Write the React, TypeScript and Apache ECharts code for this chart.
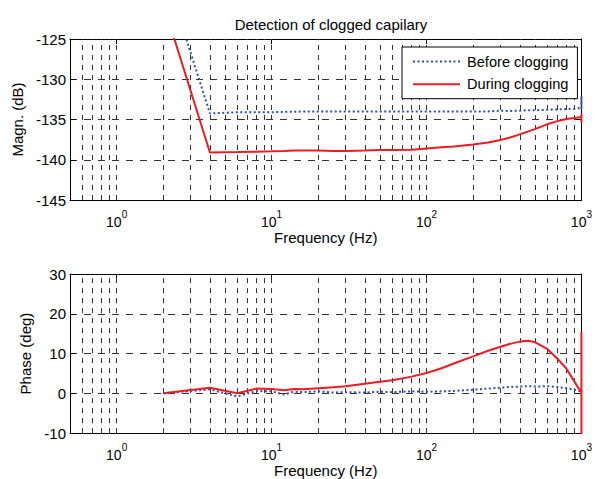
import React, { useEffect, useRef } from 'react';
import * as echarts from 'echarts';

const freqs = [2, 4, 6, 8, 10, 12, 14, 16, 20, 25, 30, 40, 50, 60, 80, 100, 125, 150, 200, 250, 300, 350, 400, 450, 500, 600, 700, 800, 900, 950, 1000, 1000, 1000];

const magBefore = [-116, -134.25, -134.1, -134.1, -134.1, -134.05, -134.05, -134.0, -134.0, -134.0, -134.0, -134.0, -134.0, -134.0, -134.0, -134.0, -134.0, -134.0, -134.0, -134.0, -133.9, -133.95, -133.9, -133.85, -133.85, -133.8, -133.75, -133.7, -133.65, -133.6, -133.6, -132.1, -134.1];

const magDuring = [-120.6, -139.1, -139.05, -139.0, -138.95, -138.9, -138.85, -138.85, -138.85, -138.9, -138.9, -138.85, -138.8, -138.8, -138.75, -138.6, -138.45, -138.35, -138.1, -137.85, -137.55, -137.2, -136.85, -136.5, -136.2, -135.6, -135.2, -134.95, -134.8, -134.75, -134.7, -134.3, -135.4];

const phaseBefore = [0, 1.0, -0.8, 0.6, 0.5, -0.3, 0.4, 0.3, 0.5, 0.2, 0.3, 0.2, 0.4, 0.3, 0.5, 0.4, 0.5, 0.6, 0.9, 1.2, 1.4, 1.6, 1.7, 1.8, 1.7, 1.8, 1.6, 1.3, 0.9, 0.7, 0.4, 0.8, 0.2];

const phaseDuring = [0, 1.4, 0.0, 1.2, 1.1, 0.8, 1.1, 1.0, 1.3, 1.5, 1.8, 2.4, 2.9, 3.3, 4.2, 5.1, 6.3, 7.5, 9.3, 10.7, 11.7, 12.5, 13.0, 13.2, 12.9, 11.2, 8.7, 6.2, 3.0, 1.5, 0.3, 15.5, -12];

const gridFreqs = [0.6, 0.7, 0.8, 0.9, 1, 2, 3, 4, 5, 6, 7, 8, 9, 10, 20, 30, 40, 50, 60, 70, 80, 90, 100, 200, 300, 400, 500, 600, 700, 800, 900];

const magRange = { min: -145, max: -125, step: 5 };
const phaseRange = { min: -10, max: 30, step: 10 };
const freqRange = { min: 0.5, max: 1000 };

const titleText = 'Detection of clogged capilary';
const seriesNames = ['Before clogging', 'During clogging'];
const xName = 'Frequency (Hz)';
const magName = 'Magn. (dB)';
const phaseName = 'Phase (deg)';

const FONT = "'Liberation Sans', Arial, Helvetica, sans-serif";
const BLUE = '#2e4fb5';
const RED = '#ec1c24';

function pairs(f: number[], v: number[]) {
  return f.map((x, i) => [x, v[i]]);
}

function xAxisFor(gridIndex: number, top: boolean) {
  return {
    gridIndex,
    type: 'log',
    logBase: 10,
    min: freqRange.min,
    max: freqRange.max,
    position: top ? 'top' : 'bottom',
    name: top ? '' : xName,
    nameLocation: 'middle',
    nameGap: 29,
    nameTextStyle: { fontSize: 15, color: '#000', fontFamily: FONT },
    axisLine: { show: true, onZero: false, lineStyle: { color: '#000', width: 1 } },
    axisTick: { show: true, inside: true, length: 5, lineStyle: { color: '#000' } },
    axisLabel: {
      show: !top,
      margin: 9,
      formatter: (v: number) => {
        const e = Math.log10(v);
        const r = Math.round(e);
        if (Math.abs(e - r) > 1e-6) return '';
        return `{b|10}{s|${r}}`;
      },
      rich: {
        b: { fontSize: 14, color: '#000', fontFamily: FONT, lineHeight: 20, verticalAlign: 'bottom' },
        s: { fontSize: 10, color: '#000', fontFamily: FONT, lineHeight: 10, verticalAlign: 'top' },
      },
    },
    splitLine: { show: false },
  };
}

function yAxisFor(gridIndex: number, right: boolean, range: { min: number; max: number; step: number }, name: string, gap: number) {
  return {
    gridIndex,
    type: 'value',
    min: range.min,
    max: range.max,
    interval: range.step,
    position: right ? 'right' : 'left',
    name: right ? '' : name,
    nameLocation: 'middle',
    nameGap: gap,
    nameTextStyle: { fontSize: 15, color: '#000', fontFamily: FONT },
    axisLine: { show: true, onZero: false, lineStyle: { color: '#000', width: 1 } },
    axisTick: { show: true, inside: true, length: 5, lineStyle: { color: '#000' } },
    axisLabel: { show: !right, fontSize: 15, color: '#000', fontFamily: FONT, margin: 4 },
    splitLine: right ? { show: false } : { show: true, lineStyle: { type: [7, 7], color: '#333', width: 1 } },
  };
}

const vGrid = {
  silent: true,
  symbol: ['none', 'none'],
  label: { show: false },
  z: 1,
  animation: false,
  emphasis: { disabled: true },
  lineStyle: { type: [5, 5], color: '#333', width: 1 },
  data: gridFreqs.map((f) => ({ xAxis: f })),
};

export default function App() {
  const ref = useRef<HTMLDivElement>(null);
  useEffect(() => {
    if (!ref.current) return;
    const chart = echarts.init(ref.current, null, { renderer: 'svg' });
    const blueLine = { color: BLUE, width: 2, type: [2, 2.5] };
    const redLine = { color: RED, width: 2, type: 'solid' };
    chart.setOption({
      animation: false,
      backgroundColor: '#fff',
      title: {
        text: titleText,
        left: 326,
        top: 12,
        textAlign: 'center',
        textStyle: { fontSize: 15, fontWeight: 'normal', color: '#000', fontFamily: FONT },
      },
      legend: {
        orient: 'vertical',
        left: 402,
        top: 47,
        itemWidth: 47,
        itemHeight: 14,
        itemGap: 7.7,
        padding: [7, 9, 7, 10],
        borderColor: '#000',
        borderWidth: 1,
        borderRadius: 0,
        backgroundColor: '#fff',
        itemStyle: { opacity: 0 },
        textStyle: { fontSize: 14.6, color: '#000', fontFamily: FONT, padding: [0, 0, 0, 2] },
        data: seriesNames,
      },
      grid: [
        { left: 70, right: 12, top: 39, height: 161 },
        { left: 70, right: 12, top: 274, height: 160 },
      ],
      xAxis: [xAxisFor(0, false), xAxisFor(0, true), xAxisFor(1, false), xAxisFor(1, true)],
      yAxis: [
        yAxisFor(0, false, magRange, magName, 43),
        yAxisFor(0, true, magRange, '', 0),
        yAxisFor(1, false, phaseRange, phaseName, 37),
        yAxisFor(1, true, phaseRange, '', 0),
      ],
      series: [
        {
          name: seriesNames[0], type: 'line', xAxisIndex: 0, yAxisIndex: 0,
          data: pairs(freqs, magBefore), symbol: 'none', lineStyle: blueLine, itemStyle: { color: BLUE },
          markLine: vGrid, z: 2,
        },
        {
          name: seriesNames[1], type: 'line', xAxisIndex: 0, yAxisIndex: 0,
          data: pairs(freqs, magDuring), symbol: 'none', lineStyle: redLine, itemStyle: { color: RED }, z: 3,
        },
        {
          name: seriesNames[0], type: 'line', xAxisIndex: 2, yAxisIndex: 2,
          data: pairs(freqs, phaseBefore), symbol: 'none', lineStyle: blueLine, itemStyle: { color: BLUE },
          markLine: vGrid, z: 2,
        },
        {
          name: seriesNames[1], type: 'line', xAxisIndex: 2, yAxisIndex: 2,
          data: pairs(freqs, phaseDuring), symbol: 'none', lineStyle: redLine, itemStyle: { color: RED }, z: 3,
        },
      ],
    });
    return () => chart.dispose();
  }, []);
  return <div ref={ref} style={{ position: 'absolute', left: 0, top: 0, width: 595, height: 479 }} />;
}
